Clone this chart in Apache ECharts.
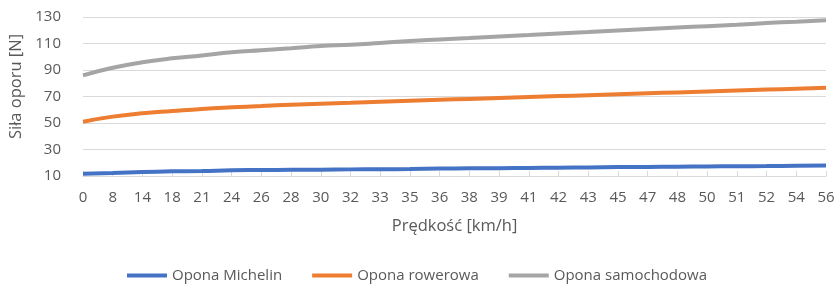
<!DOCTYPE html>
<html>
<head>
<meta charset="utf-8">
<script src="https://cdn.jsdelivr.net/npm/echarts@6/dist/echarts.min.js"></script>
<style>
  html, body { margin: 0; padding: 0; background: #fff; }
  #chart { width: 834px; height: 286px; }
</style>
</head>
<body>
<div id="chart"></div>
<script>
// prędkość [km/h] - kategorie osi X
const speeds = ['0', '8', '14', '18', '21', '24', '26', '28', '30', '32', '33', '35', '36',
  '38', '39', '41', '42', '43', '45', '47', '48', '50', '51', '52', '54', '56'];

// siła oporu [N]
const michelin = [11.7, 12.3, 13.0, 13.5, 13.8, 14.3, 14.5, 14.7, 14.8, 15.0, 15.1, 15.3, 15.6,
  15.8, 15.9, 16.1, 16.3, 16.5, 16.7, 16.8, 17.0, 17.2, 17.4, 17.5, 17.7, 17.9];
const rowerowa = [51.0, 54.8, 57.3, 59.0, 60.6, 61.8, 62.8, 63.8, 64.6, 65.3, 66.1, 66.8, 67.5,
  68.2, 68.9, 69.6, 70.3, 71.0, 71.7, 72.4, 73.1, 73.8, 74.5, 75.2, 75.9, 76.6];
const samochodowa = [86.0, 91.7, 95.8, 98.8, 101.0, 103.4, 104.9, 106.4, 108.1, 109.0, 110.4, 111.9, 113.0,
  114.1, 115.3, 116.4, 117.5, 118.6, 119.8, 120.9, 122.0, 123.1, 124.2, 125.4, 126.5, 127.6];

const seriesNames = ['Opona Michelin', 'Opona rowerowa', 'Opona samochodowa'];
const colors = ['#4472c4', '#ed7d31', '#a5a5a5'];

const font = '"Open Sans", "Noto Sans", sans-serif';
const textColor = '#595959';

const chart = echarts.init(document.getElementById('chart'));

const lineSeries = [michelin, rowerowa, samochodowa].map((data, i) => ({
  name: seriesNames[i],
  type: 'line',
  data: data,
  smooth: true,
  symbol: 'none',
  lineStyle: { width: 4, color: colors[i] },
  itemStyle: { color: colors[i] }
}));

chart.setOption({
  animation: false,
  textStyle: { fontFamily: font },
  grid: { left: 83, right: 8, top: 17, bottom: 110, containLabel: false, outerBoundsMode: 'none' },
  legend: {
    data: seriesNames,
    left: 'center',
    top: 268,
    padding: 0,
    icon: 'rect',
    itemWidth: 40,
    itemHeight: 4,
    itemGap: 30,
    textStyle: { color: textColor, fontSize: 15, fontFamily: font }
  },
  xAxis: {
    type: 'category',
    data: speeds,
    boundaryGap: false,
    name: 'Prędkość [km/h]',
    nameLocation: 'middle',
    nameGap: 42,
    nameTextStyle: { color: textColor, fontSize: 16.5, fontFamily: font },
    axisLine: { lineStyle: { color: '#d9d9d9' } },
    axisTick: { show: true, inside: true, length: 5, lineStyle: { color: '#d9d9d9' } },
    axisLabel: { interval: 0, color: textColor, fontSize: 15, margin: 14 },
    splitLine: { show: false }
  },
  yAxis: {
    type: 'value',
    min: 10,
    max: 130,
    interval: 20,
    name: 'Siła oporu [N]',
    nameLocation: 'middle',
    nameGap: 55,
    nameTextStyle: { color: textColor, fontSize: 16.5, fontFamily: font, padding: [0, 0, 0, 20] },
    axisLine: { show: false },
    axisTick: { show: false },
    axisLabel: { color: textColor, fontSize: 15, margin: 22 },
    splitLine: { lineStyle: { color: '#d9d9d9', width: 1 } }
  },
  series: lineSeries
});
</script>
</body>
</html>
